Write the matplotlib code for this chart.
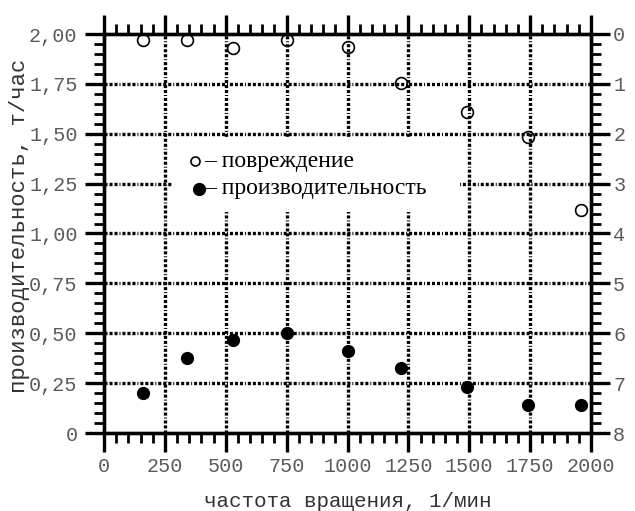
import matplotlib
matplotlib.use("Agg")
import matplotlib.pyplot as plt
from matplotlib.ticker import MultipleLocator, FuncFormatter
from matplotlib.patches import Rectangle

# частота вращения, 1/мин
freq = [160, 340, 530, 750, 1000, 1220, 1490, 1740, 1960]
# производительность, т/час
prod = [0.20, 0.375, 0.465, 0.50, 0.41, 0.325, 0.23, 0.14, 0.14]
# повреждение (правая шкала)
damage = [0.12, 0.12, 0.28, 0.12, 0.26, 0.98, 1.56, 2.06, 3.52]

y_ticks = [0, 0.25, 0.5, 0.75, 1.0, 1.25, 1.5, 1.75, 2.0]
x_ticks = [0, 250, 500, 750, 1000, 1250, 1500, 1750, 2000]

mono = "Liberation Mono"
serif = "Liberation Serif"
tick_col = "#5a5a5a"
plt.rcParams["lines.scale_dashes"] = False

fig = plt.figure(figsize=(6.35, 5.11), dpi=100)
ax = fig.add_axes([104 / 635, 78 / 511, 487 / 635, 399 / 511])
ax2 = ax.twinx()

ax.set_xlim(0, 2000)
ax.set_ylim(0, 2.0)
ax2.set_ylim(8, 0)

grid_dash = (2.2, 1.4, 2.2, 1.4, 2.2, 1.4, 0.7, 1.4)
for xv in x_ticks[1:-1]:
    ax.axvline(xv, color="black", lw=2.4, dashes=grid_dash, zorder=0.5,
               dash_capstyle="butt")
for yv in y_ticks[1:-1]:
    ax.axhline(yv, color="black", lw=2.4, dashes=grid_dash, zorder=0.5,
               dash_capstyle="butt")

# место под подписи
ax.add_patch(Rectangle((279, 1.11), 1462 - 279, 1.48 - 1.11,
                       facecolor="white", edgecolor="none", zorder=1))

ax.plot(freq, prod, "o", color="black", ms=8.5, zorder=3)
ax2.plot(freq, damage, "o", mfc="none", mec="black", mew=1.2, ms=8.5, zorder=3)

# подписи
ax.plot([374], [1.362], "o", mfc="none", mec="black", mew=1.2, ms=6.5,
        zorder=3)
ax.text(410, 1.362, "– повреждение", fontsize=17, family=serif,
        va="center", ha="left", zorder=4)
ax.plot([392], [1.225], "o", color="black", ms=8.5, zorder=3)
ax.text(410, 1.225, "– производительность", fontsize=17, family=serif,
        va="center", ha="left", zorder=4)

# оси
for a in (ax, ax2):
    for s in a.spines.values():
        s.set_linewidth(2.4)

ax.xaxis.set_major_locator(MultipleLocator(250))
ax.xaxis.set_minor_locator(MultipleLocator(50))
ax.yaxis.set_major_locator(MultipleLocator(0.25))
ax.yaxis.set_minor_locator(MultipleLocator(0.05))
ax2.yaxis.set_major_locator(MultipleLocator(1))
ax2.yaxis.set_minor_locator(MultipleLocator(0.2))

ax.yaxis.set_major_formatter(FuncFormatter(
    lambda v, p: "0" if v == 0 else f"{v:.2f}".replace(".", ",")))
ax2.yaxis.set_major_formatter(FuncFormatter(lambda v, p: f"{v:.0f}"))

ax.tick_params(axis="both", which="major", direction="out", length=14,
               width=2.4, labelsize=14.5, labelcolor=tick_col,
               top=True, labeltop=False)
ax.tick_params(axis="both", which="minor", direction="out", length=7,
               width=2.0, top=True)
ax.tick_params(axis="x", which="major", pad=3)
ax.tick_params(axis="y", which="major", pad=5)
ax2.tick_params(axis="y", which="major", direction="out", length=14,
                width=2.4, labelsize=14.5, labelcolor=tick_col, pad=2)
ax2.tick_params(axis="y", which="minor", direction="out", length=7, width=2.0)

for lab in ax.get_xticklabels() + ax.get_yticklabels() + ax2.get_yticklabels():
    lab.set_family(mono)

ax.set_xlabel("частота вращения, 1/мин", family=mono, fontsize=15,
              color="#333333", labelpad=12)
ax.set_ylabel("производительность, т/час", family=mono, fontsize=16,
              color="#333333")
ax.yaxis.set_label_coords(-0.152, 0.52)

fig.savefig("out.png", dpi=100)
